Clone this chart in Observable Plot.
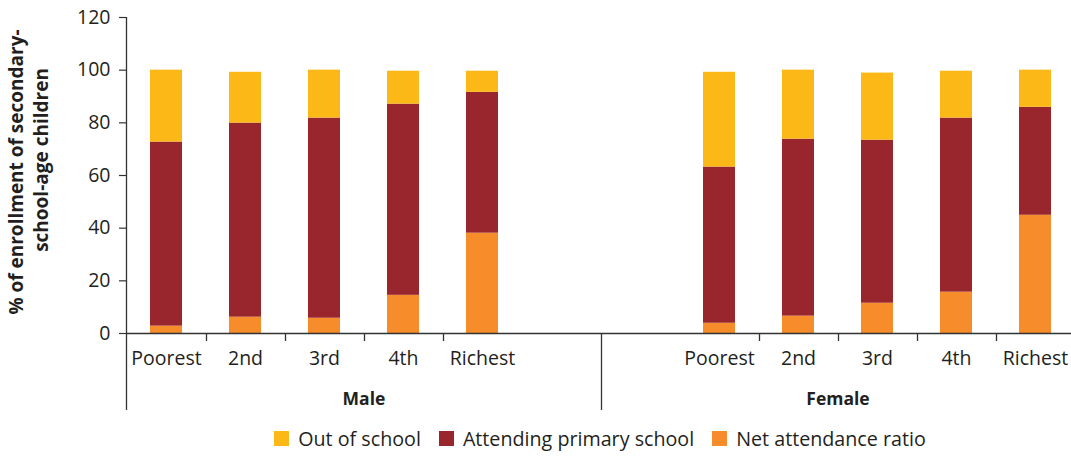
<!DOCTYPE html>
<html><head><meta charset="utf-8">
<script src="https://cdn.jsdelivr.net/npm/d3@7"></script>
<script src="https://cdn.jsdelivr.net/npm/@observablehq/plot@0.6"></script>
<style>
body{margin:0;background:#fff;font-family:"Open Sans",sans-serif;color:#231f20;}
#chart svg{display:block;overflow:visible;}
#legend{display:flex;justify-content:center;align-items:center;gap:18px;width:1071px;padding-left:129px;padding-top:5px;box-sizing:border-box;height:41px;font-size:19.7px;}
#legend .item{display:flex;align-items:center;gap:9px;}
#legend .sw{width:15px;height:15px;display:inline-block;}
</style></head>
<body><div id="chart"></div><div id="legend"></div>
<script>
const groups = ["Male", "Female"];
const quintiles = ["Poorest", "2nd", "3rd", "4th", "Richest"];
const yTicks = [0, 20, 40, 60, 80, 100, 120];
const seriesNames = ["Net attendance ratio", "Attending primary school", "Out of school"];
const seriesColors = ["#F68D2A", "#98262C", "#FBB817"];
const legendOrder = ["Out of school", "Attending primary school", "Net attendance ratio"];

const maleNAR      = [2.8, 6.2, 5.8, 14.5, 38.1];
const malePrimary  = [69.9, 73.7, 76.0, 72.6, 53.5];
const maleOut      = [27.3, 19.3, 18.2, 12.5, 8.0];
const femaleNAR     = [3.9, 6.6, 11.5, 15.7, 44.9];
const femalePrimary = [59.3, 67.2, 61.9, 66.1, 41.0];
const femaleOut     = [36.0, 26.2, 25.5, 17.8, 14.1];

const seriesByGroup = {
  Male: [maleNAR, malePrimary, maleOut],
  Female: [femaleNAR, femalePrimary, femaleOut]
};

// category slots: each group has 6 slots (male: 5 bars + blank after; female: blank + 5 bars)
const maleSlots = [...quintiles.map(q => "Male|" + q), "Male|_"];
const femaleSlots = ["Female|_", ...quintiles.map(q => "Female|" + q)];
const slots = [...maleSlots, ...femaleSlots];

const rows = [];
for (const g of groups) {
  quintiles.forEach((q, i) => {
    seriesNames.forEach((s, k) => {
      rows.push({slot: g + "|" + q, series: s, value: seriesByGroup[g][k][i]});
    });
  });
}
const labels = [];
for (const g of groups) quintiles.forEach(q => labels.push({slot: g + "|" + q, label: q}));

const font = "'Open Sans', sans-serif";
const plot = Plot.plot({
  width: 1071,
  height: 415,
  marginLeft: 126,
  marginRight: 0,
  marginTop: 17,
  marginBottom: 82,
  style: {fontFamily: font, color: "#231f20", background: "#fff", overflow: "visible"},
  x: {domain: slots, range: [126.5, 1074.5], paddingInner: 0.595, paddingOuter: 0.2975, axis: null},
  y: {domain: [0, 120], axis: null},
  color: {domain: seriesNames, range: seriesColors},
  marks: [
    Plot.barY(rows, {x: "slot", y: "value", fill: "series", order: seriesNames}),
    Plot.axisY({ticks: yTicks, tickSize: 7, tickPadding: 9, fontSize: 19.5, label: null, stroke: "#333", fill: "#231f20", strokeWidth: 1.2}),
    Plot.ruleY([0], {stroke: "#333", strokeWidth: 1.4}),
    Plot.text(labels, {x: "slot", text: "label", frameAnchor: "bottom", dy: 31, fontSize: 19.5, fill: "#231f20"})
  ]
});
document.getElementById("chart").appendChild(plot);

const xs = plot.scale("x");
const y = plot.scale("y");
const svg = d3.select(plot);
const step = xs.step, bw = xs.bandwidth;
const y0 = y.apply(0);
const boundary = (slot) => xs.apply(slot) + bw / 2 + step / 2;
const g = svg.append("g").attr("stroke", "#333").attr("stroke-width", 1.3);
// category tick separators
const tickSlots = [...maleSlots.slice(0, 4), ...femaleSlots.slice(1, 5)];
tickSlots.forEach(s => {
  const x = Math.round(boundary(s)) + 0.5;
  g.append("line").attr("x1", x).attr("x2", x).attr("y1", y0).attr("y2", y0 + 8);
});
// left axis line extended through label rows
const xLeft = Math.round(xs.apply(slots[0]) - (step - bw) / 2) - 0.5;
g.append("line").attr("x1", xLeft).attr("x2", xLeft).attr("y1", y.apply(120)).attr("y2", 410);
// group separator
const xSep = Math.round(boundary(maleSlots[5])) + 0.5;
g.append("line").attr("x1", xSep).attr("x2", xSep).attr("y1", y0).attr("y2", 410);
// group labels
const groupCenters = [
  (xLeft + xSep) / 2,
  (xSep + xs.apply(femaleSlots[5]) + bw / 2 + step / 2) / 2
];
groups.forEach((name, i) => {
  svg.append("text").attr("x", groupCenters[i]).attr("y", 400)
    .attr("text-anchor", "middle").attr("dominant-baseline", "middle")
    .attr("font-family", font).attr("font-size", 17.5).attr("font-weight", 700)
    .attr("fill", "#231f20").text(name);
});
// y axis title (two lines)
const titleLines = [["% of enrollment of secondary-", 18, 172], ["school-age children", 43, 160]];
titleLines.forEach(([t, x, yc]) => {
  svg.append("text").attr("transform", `translate(${x},${yc}) rotate(-90)`)
    .attr("text-anchor", "middle").attr("dominant-baseline", "middle")
    .attr("font-family", font).attr("font-size", 19).attr("font-weight", 700)
    .attr("fill", "#231f20").text(t);
});

// legend
const legend = d3.select("#legend");
legendOrder.forEach(name => {
  const it = legend.append("div").attr("class", "item");
  it.append("span").attr("class", "sw").style("background", seriesColors[seriesNames.indexOf(name)]);
  it.append("span").text(name);
});
</script>
</body></html>
